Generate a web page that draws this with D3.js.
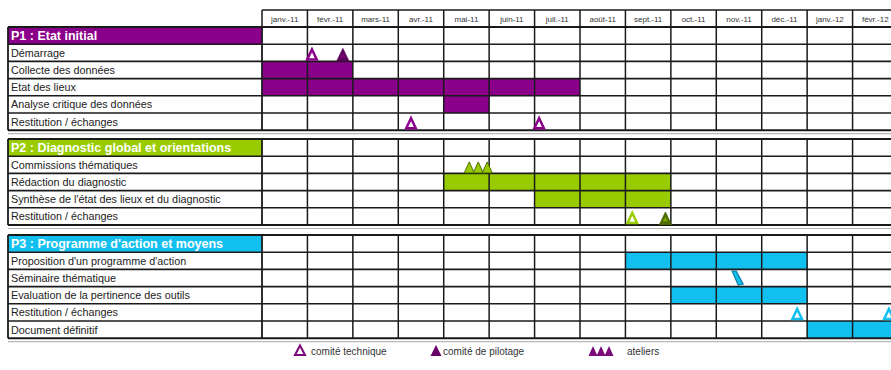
<!DOCTYPE html>
<html>
<head>
<meta charset="utf-8">
<script src="https://cdnjs.cloudflare.com/ajax/libs/d3/7.8.5/d3.min.js"></script>
<style>
  html, body { margin: 0; padding: 0; background: #fff; }
  svg { display: block; font-family: "Liberation Sans", Arial, sans-serif; }
</style>
</head>
<body>
<svg id="chart" width="891" height="370"></svg>
<script>
// ---- data ----
const months = ["janv.-11", "févr.-11", "mars-11", "avr.-11", "mai-11", "juin-11", "juil.-11",
                "août-11", "sept.-11", "oct.-11", "nov.-11", "déc.-11", "janv.-12", "févr.-12"];

const phases = ["P1 : Etat initial", "P2 : Diagnostic global et orientations", "P3 : Programme d'action et moyens"];

const tasksP1 = ["Démarrage", "Collecte des données", "Etat des lieux", "Analyse critique des données", "Restitution / échanges"];
const tasksP2 = ["Commissions thématiques", "Rédaction du diagnostic", "Synthèse de l'état des lieux et du diagnostic", "Restitution / échanges"];
const tasksP3 = ["Proposition d'un programme d'action", "Séminaire thématique", "Evaluation de la pertinence des outils", "Restitution / échanges", "Document définitif"];

// bars: [phase, task index, first month index, last month index (inclusive)]
const bars = [
  [0, 1, 0, 1],
  [0, 2, 0, 6],
  [0, 3, 4, 4],
  [1, 1, 4, 8],
  [1, 2, 6, 8],
  [2, 0, 8, 11],
  [2, 2, 9, 11],
  [2, 4, 12, 13]
];

// milestones: [phase, task index, position in months, kind]
const milestones = [
  [0, 0, 1.1, "technique"],
  [0, 0, 1.78, "pilotage"],
  [0, 4, 3.28, "technique"],
  [0, 4, 6.1, "technique"],
  [1, 0, 4.76, "ateliers"],
  [1, 3, 8.15, "technique"],
  [1, 3, 8.88, "pilotage"],
  [2, 1, 10.46, "seminaire"],
  [2, 3, 11.78, "technique"],
  [2, 3, 13.8, "technique"]
];

const legendItems = [["technique", "comité technique"], ["pilotage", "comité de pilotage"], ["ateliers", "ateliers"]];

// ---- layout ----
const svg = d3.select("#chart");
const labelLeft = 8, gridLeft = 262, gridRight = 898;
const headerTop = 10, headerBottom = 27;
const rowH = 17.2;
const blockTops = [27, 139, 235];
const phaseColors = ["#8a008a", "#99cc00", "#12c0f0"];
const phaseDark = ["#5c005c", "#4d6b00", "#0a7fa8"];
const tasksByPhase = [tasksP1, tasksP2, tasksP3];

const x = d3.scaleLinear().domain([0, months.length]).range([gridLeft, gridRight]);
const rowY = (p, i) => blockTops[p] + rowH * (i + 1); // top of task row i

// month header
const head = svg.append("g");
head.selectAll("text").data(months).join("text")
  .attr("x", (d, i) => x(i + 0.5)).attr("y", (headerTop + headerBottom) / 2 + 3)
  .attr("text-anchor", "middle").attr("font-size", 8).attr("fill", "#333").text(d => d);

// phase blocks
phases.forEach((ph, p) => {
  const g = svg.append("g");
  const tasks = tasksByPhase[p];
  const top = blockTops[p];
  const bottom = top + rowH * (tasks.length + 1);

  g.append("rect").attr("x", labelLeft).attr("y", top).attr("width", gridLeft - labelLeft).attr("height", rowH)
    .attr("fill", phaseColors[p]);
  g.append("text").attr("x", labelLeft + 3).attr("y", top + rowH / 2 + 4.5)
    .attr("font-size", 12.5).attr("font-weight", "bold").attr("fill", "#fff").text(ph);

  g.selectAll("text.task").data(tasks).join("text").attr("class", "task")
    .attr("x", labelLeft + 3).attr("y", (d, i) => rowY(p, i) + rowH / 2 + 4)
    .attr("font-size", 10.8).attr("fill", "#222").text(d => d);

  // bars of this phase
  g.selectAll("rect.bar").data(bars.filter(b => b[0] === p)).join("rect").attr("class", "bar")
    .attr("x", b => x(b[2])).attr("y", b => rowY(p, b[1]))
    .attr("width", b => x(b[3] + 1) - x(b[2])).attr("height", rowH)
    .attr("fill", phaseColors[p]);

  // horizontal lines
  const hs = d3.range(tasks.length + 2).map(i => top + rowH * i);
  g.selectAll("line.h").data(hs).join("line").attr("class", "h")
    .attr("x1", labelLeft).attr("x2", gridRight).attr("y1", d => d).attr("y2", d => d)
    .attr("stroke", "#1a1a1a").attr("stroke-width", (d, i) => (i === 0 || i === hs.length - 1) ? 2 : 1.6);

  // vertical lines
  const vs = [labelLeft].concat(d3.range(months.length + 1).map(i => x(i)));
  g.selectAll("line.v").data(vs).join("line").attr("class", "v")
    .attr("x1", d => d).attr("x2", d => d).attr("y1", top).attr("y2", bottom)
    .attr("stroke", "#1a1a1a").attr("stroke-width", (d, i) => i <= 1 ? 1.8 : 1.5);

  // soft separator under each block
  g.append("line").attr("x1", labelLeft).attr("x2", gridRight)
    .attr("y1", bottom + 3.5).attr("y2", bottom + 3.5).attr("stroke", "#b8b8b8").attr("stroke-width", 1.2);
});

// month header grid
head.append("line").attr("x1", gridLeft).attr("x2", gridRight).attr("y1", headerTop).attr("y2", headerTop)
  .attr("stroke", "#1a1a1a").attr("stroke-width", 1.5);
head.selectAll("line.v").data(d3.range(months.length + 1)).join("line").attr("class", "v")
  .attr("x1", d => x(d)).attr("x2", d => x(d)).attr("y1", headerTop).attr("y2", headerBottom)
  .attr("stroke", "#1a1a1a").attr("stroke-width", 1.5);

// ---- markers ----
function tri(cx, base, w, h) {
  return `M${cx - w / 2},${base}L${cx},${base - h}L${cx + w / 2},${base}Z`;
}
function drawMarker(g, kind, cx, base, color, dark) {
  if (kind === "technique") {
    g.append("path").attr("d", tri(cx, base - 1.5, 9.5, 10))
      .attr("fill", "#fff").attr("stroke", color).attr("stroke-width", 2.5).attr("stroke-linejoin", "miter");
  } else if (kind === "pilotage") {
    g.append("path").attr("d", tri(cx, base, 12, 12.5)).attr("fill", dark).attr("stroke", dark).attr("stroke-width", 0.8);
    g.append("path").attr("d", tri(cx, base - 3, 5, 5)).attr("fill", color).attr("opacity", 0.6);
  } else if (kind === "ateliers") {
    [-9, 0, 9].forEach(o => {
      g.append("path").attr("d", tri(cx + o, base, 10, 11)).attr("fill", color).attr("stroke", dark).attr("stroke-width", 1);
    });
  } else if (kind === "seminaire") {
    g.append("path").attr("d", `M${cx - 5},${base - 15}L${cx - 1},${base - 15}L${cx + 6},${base - 2}L${cx + 1},${base - 1}Z`)
      .attr("fill", color).attr("stroke", dark).attr("stroke-width", 1.2);
  }
}

const mg = svg.append("g");
milestones.forEach(([p, t, m, kind]) => {
  drawMarker(mg, kind, x(m), rowY(p, t) + rowH - 0.5, phaseColors[p], phaseDark[p]);
});

// ---- legend ----
const lg = svg.append("g");
const legendX = [300, 436, 601];
const legendTextX = [311, 443, 627];
legendItems.forEach(([kind, label], i) => {
  if (kind === "ateliers") {
    [-8, 0, 8].forEach(o => lg.append("path").attr("d", tri(legendX[i] + o, 356, 9, 10)).attr("fill", "#7a0a7a"));
  } else if (kind === "technique") {
    lg.append("path").attr("d", tri(legendX[i], 355, 10, 9.5)).attr("fill", "#fff").attr("stroke", "#7a0a7a").attr("stroke-width", 2);
  } else {
    lg.append("path").attr("d", tri(legendX[i], 356, 11, 11)).attr("fill", "#6a006a");
  }
  lg.append("text").attr("x", legendTextX[i]).attr("y", 355).attr("font-size", 10).attr("fill", "#333").text(label);
});
</script>
</body>
</html>
